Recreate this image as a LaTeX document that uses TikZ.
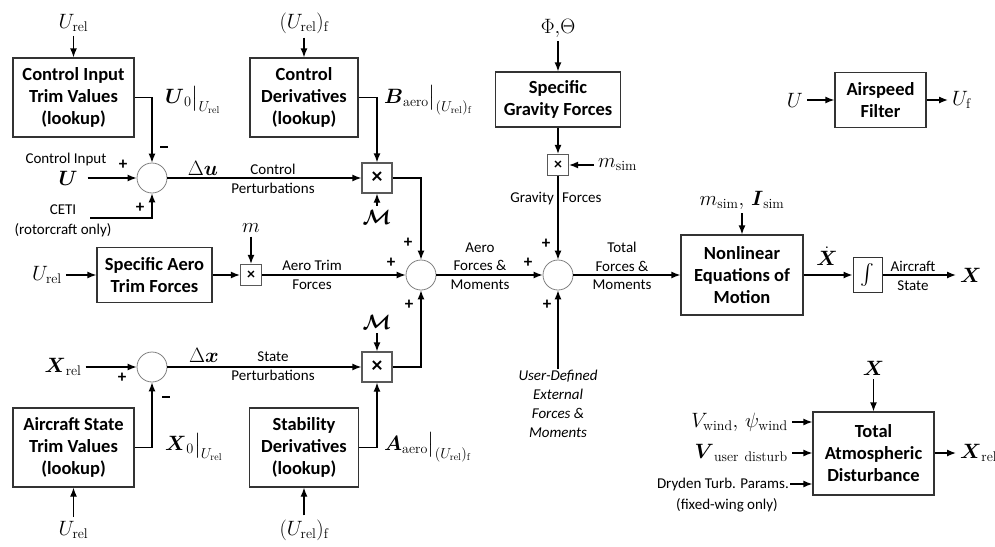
\documentclass[tikz,border=0pt]{standalone}
\usepackage{amsmath}
\usepackage{fontspec}
\setsansfont{Carlito}
\usetikzlibrary{positioning, shapes, calc, arrows.meta}

\begin{document}
\begin{tikzpicture}[x=1pt, y=-1pt,
block/.style={rectangle, draw=black!80, line width=1.3pt, align=center, inner sep=0pt, font=\sffamily\bfseries\fontsize{18.5}{22}\selectfont},
sumj/.style={circle, draw=black!50, line width=0.8pt, minimum size=30pt, inner sep=0pt},
mult/.style={rectangle, draw=black!65, line width=1.3pt, minimum size=30pt, inner sep=0pt, font=\sffamily\bfseries\fontsize{22}{22}\selectfont},
smult/.style={mult, minimum size=21pt, font=\sffamily\bfseries\fontsize{16}{16}\selectfont},
txt/.style={align=center, inner sep=1pt, font=\sffamily\fontsize{15}{18.5}\selectfont},
var/.style={inner sep=4pt, font=\fontsize{20}{24}\selectfont},
sgn/.style={inner sep=0pt, font=\sffamily\bfseries\fontsize{17}{17}\selectfont},
flow/.style={-{Latex[length=9pt, width=7pt]}, line width=1.3pt},
]
\useasboundingbox (0,0) rectangle (995,546);

%Nodes
\node [block, minimum width=121pt, minimum height=79pt] (t_ctrl) at (73.5,97.5) {Control Input\\Trim Values\\(lookup)};
\node [block, minimum width=108pt, minimum height=79pt] (d_ctrl) at (304,97.5) {Control\\Derivatives\\(lookup)};
\node [block, minimum width=115pt, minimum height=55pt] (f_aero) at (154.5,275) {Specific Aero\\Trim Forces};
\node [block, minimum width=121pt, minimum height=79pt] (t_state) at (73.5,447.5) {Aircraft State\\Trim Values\\(lookup)};
\node [block, minimum width=109pt, minimum height=79pt] (d_stab) at (304,447.5) {Stability\\Derivatives\\(lookup)};
\node [block, minimum width=125pt, minimum height=55pt] (f_grav) at (558,99.5) {Specific\\Gravity Forces};
\node [block, minimum width=122pt, minimum height=80pt] (eom) at (742,275) {Nonlinear\\Equations of\\Motion};
\node [block, minimum width=91pt, minimum height=55pt] (filt) at (880.5,100) {Airspeed\\Filter};
\node [block, minimum width=121pt, minimum height=83pt] (atmo) at (873.5,453.5) {Total\\Atmospheric\\Disturbance};
\node [block, minimum width=29pt, minimum height=35pt, line width=1pt, font=\fontsize{20}{20}\selectfont] (integ) at (867.5,275) {$\int$};

\node [sumj] (s_u) at (152,178) {};
\node [sumj] (s_x) at (152,367) {};
\node [sumj] (s_aero) at (421,275) {};
\node [sumj] (s_tot) at (558,275) {};

\node [mult] (m_u) at (377,178) {×};
\node [mult] (m_x) at (377,367) {×};
\node [smult] (m_trim) at (251,275) {×};
\node [smult] (m_grav) at (558,165) {×};

% Labels
\node [var] (urel_a) at (73.5,23) {$U_{\mathrm{rel}}$};
\node [var] (urelf_a) at (304,23) {$(U_{\mathrm{rel}})_{\mathrm{f}}$};
\node [txt] (ci_txt) at (66,159) {Control Input};
\node [var] (u_in) at (68,178) {$\boldsymbol{U}$};
\node [txt, font=\sffamily\fontsize{15}{20}\selectfont] (ceti) at (63,221) {CETI\\(rotorcraft only)};
\coordinate (ceti_in) at (90,218);
\node [var, inner sep=2pt, anchor=west] (u0) at (163,100) {$\boldsymbol{U}_0\big|_{U_{\mathrm{rel}}}$};
\node [sgn] (minus_u) at (164,147) {\rule{8pt}{2pt}};
\node [sgn] (plus_u1) at (123,165) {+};
\node [sgn] (plus_u2) at (140,208) {+};
\node [var] (du) at (203,168) {$\Delta\boldsymbol{u}$};
\node [txt] (cp_txt) at (273,179) {Control\\Perturbations};
\node [var, inner sep=2pt, anchor=west] (b_aero) at (382,100) {$\boldsymbol{B}_{\mathrm{aero}}\big|_{(U_{\mathrm{rel}})_{\mathrm{f}}}$};
\node [var] (mm_u) at (377,217) {$\boldsymbol{\mathcal{M}}$};
\node [sgn] (plus_a1) at (408,243) {+};
\node [sgn] (plus_a2) at (391,263) {+};
\node [sgn] (plus_a3) at (409,305) {+};

\node [var] (urel_b) at (47,275) {$U_{\mathrm{rel}}$};
\node [var] (m_in) at (251,228) {$m$};
\node [txt] (at_txt) at (312,275) {Aero Trim\\Forces};

\node [var] (xrel_in) at (63,367) {$\boldsymbol{X}_{\mathrm{rel}}$};
\node [sgn] (plus_x) at (122,378) {+};
\node [sgn] (minus_x) at (166,397) {\rule{8pt}{2pt}};
\node [var, inner sep=2pt, anchor=west] (x0) at (163,447) {$\boldsymbol{X}_0\big|_{U_{\mathrm{rel}}}$};
\node [var] (urel_c) at (73.5,530) {$U_{\mathrm{rel}}$};
\node [var] (dx) at (204,355) {$\Delta\boldsymbol{x}$};
\node [txt] (sp_txt) at (273,366) {State\\Perturbations};
\node [var] (mm_x) at (377,322) {$\boldsymbol{\mathcal{M}}$};
\node [var, inner sep=2pt, anchor=west] (a_aero) at (382,447) {$\boldsymbol{A}_{\mathrm{aero}}\big|_{(U_{\mathrm{rel}})_{\mathrm{f}}}$};
\node [var] (urelf_b) at (304,530) {$(U_{\mathrm{rel}})_{\mathrm{f}}$};

\node [txt] (af_txt) at (480,266) {Aero\\Forces \&\\Moments};
\node [var] (euler) at (558,28) {$\Phi{,}\Theta$};
\node [var, anchor=west] (msim) at (594,165) {$m_{\mathrm{sim}}$};
\node [txt] (gf_txt) at (556,199) {Gravity\hspace{5pt} Forces};
\node [sgn] (plus_t1) at (546,244) {+};
\node [sgn] (plus_t2) at (528,263) {+};
\node [sgn] (plus_t3) at (547,305) {+};
\node [txt, anchor=north, font=\sffamily\itshape\fontsize{15}{19}\selectfont] (ext) at (558,369) {User-Defined\\External\\Forces \&\\Moments};
\node [txt] (tf_txt) at (622,266) {Total\\Forces \&\\Moments};

\node [var] (mi_sim) at (742,200) {$m_{\mathrm{sim}},\,\boldsymbol{I}_{\mathrm{sim}}$};
\node [var, inner sep=1pt] (xdot) at (827,256) {$\dot{\boldsymbol{X}}$};
\node [txt] (as_txt) at (913,276) {Aircraft\\State};
\node [var, anchor=west] (x_out) at (956,275) {$\boldsymbol{X}$};
\node [var, anchor=east] (u_f_in) at (807,100) {$U$};
\node [var, anchor=west] (uf_out) at (948,100) {$U_{\mathrm{f}}$};

\node [var] (x_atm) at (873.5,368) {$\boldsymbol{X}$};
\node [var, anchor=east] (vwind) at (792,422) {$V_{\mathrm{wind}},\,\psi_{\mathrm{wind}}$};
\node [var, anchor=east] (vuser) at (792,453) {$\boldsymbol{V}_{\mathrm{user\ disturb}}$};
\node [txt, anchor=east] (dryd) at (790,484) {Dryden Turb. Params.};
\node [txt] (dryd2) at (727,505) {(fixed-wing only)};
\node [var, anchor=west] (xrel_out) at (956,453) {$\boldsymbol{X}_{\mathrm{rel}}$};

% Paths
\draw [flow] (urel_a) -- (t_ctrl);
\draw [flow] (t_ctrl.east) -| (s_u.north);
\draw [flow, shorten <=6pt] (u_in) -- (s_u);
\draw [flow] (ceti_in) -| (s_u.south);
\draw [flow] (s_u) -- (m_u);
\draw [flow] (urelf_a) -- (d_ctrl);
\draw [flow] (d_ctrl.east) -| (m_u.north);
\draw [flow] (mm_u) -- (m_u);
\draw [flow] (m_u.east) -| (s_aero.north);

\draw [flow] (urel_b) -- (f_aero);
\draw [flow] (f_aero) -- (m_trim);
\draw [flow] (m_in) -- (m_trim);
\draw [flow] (m_trim) -- (s_aero);

\draw [flow] (xrel_in) -- (s_x);
\draw [flow] (t_state.east) -| (s_x.south);
\draw [flow] (urel_c) -- (t_state);
\draw [flow] (s_x) -- (m_x);
\draw [flow] (urelf_b) -- (d_stab);
\draw [flow] (d_stab.east) -| (m_x.south);
\draw [flow] (mm_x) -- (m_x);
\draw [flow] (m_x.east) -| (s_aero.south);

\draw [flow] (s_aero) -- (s_tot);
\draw [flow] (euler) -- (f_grav);
\draw [flow] (f_grav) -- (m_grav);
\draw [flow] (msim) -- (m_grav);
\draw [flow] (m_grav) -- (s_tot);
\draw [flow] (ext) -- (s_tot);
\draw [flow] (s_tot) -- (eom);

\draw [flow] (mi_sim) -- (eom);
\draw [flow] (eom) -- (integ);
\draw [flow] (integ) -- (x_out);
\draw [flow] (u_f_in) -- (filt);
\draw [flow] (filt) -- (uf_out);

\draw [flow] (x_atm) -- (atmo);
\draw [flow] (vwind.east) -- (vwind.east -| atmo.west);
\draw [flow] (vuser.east) -- (vuser.east -| atmo.west);
\draw [flow] (dryd.east) -- (dryd.east -| atmo.west);
\draw [flow] (atmo.east |- xrel_out) -- (xrel_out);
\end{tikzpicture}
\end{document}
